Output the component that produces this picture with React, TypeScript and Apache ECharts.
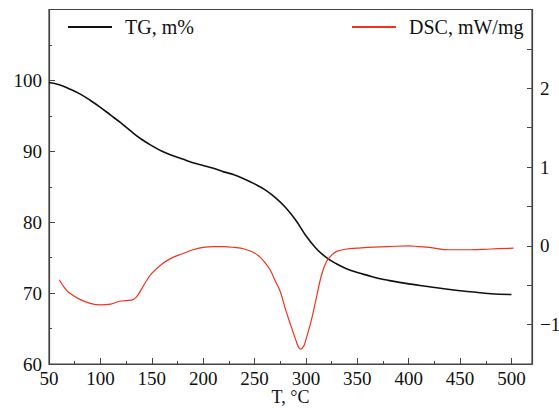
import React, { useEffect, useRef } from "react";
import * as echarts from "echarts";

const tgTemps = [50, 60, 70, 80, 90, 100, 110, 120, 130, 140, 150, 160, 170, 180, 190, 200, 210, 220, 230, 240, 250, 260, 270, 280, 290, 300, 310, 320, 330, 340, 350, 360, 370, 380, 400, 420, 440, 460, 480, 500];
const tgValues = [99.7, 99.4, 98.8, 98.1, 97.2, 96.2, 95.1, 94.0, 92.8, 91.7, 90.8, 90.0, 89.4, 88.9, 88.4, 88.0, 87.6, 87.1, 86.7, 86.1, 85.4, 84.6, 83.5, 82.1, 80.3, 78.1, 76.3, 75.0, 74.1, 73.4, 72.9, 72.5, 72.1, 71.8, 71.3, 70.9, 70.5, 70.2, 69.9, 69.8];

const dscTemps = [60, 65, 70, 80, 90, 100, 110, 120, 130, 135, 140, 145, 150, 160, 170, 180, 190, 200, 210, 220, 230, 240, 250, 255, 260, 265, 270, 275, 280, 285, 290, 293, 295, 298, 300, 305, 310, 315, 320, 325, 330, 340, 350, 360, 380, 400, 410, 420, 440, 460, 480, 502];
const dscValues = [-0.43, -0.53, -0.6, -0.68, -0.73, -0.75, -0.74, -0.7, -0.69, -0.65, -0.55, -0.44, -0.35, -0.23, -0.15, -0.1, -0.05, -0.02, -0.01, -0.01, -0.02, -0.04, -0.09, -0.14, -0.21, -0.3, -0.44, -0.58, -0.8, -1.0, -1.19, -1.29, -1.31, -1.27, -1.19, -0.96, -0.67, -0.38, -0.2, -0.12, -0.07, -0.04, -0.03, -0.02, -0.01, 0.0, -0.01, -0.02, -0.05, -0.05, -0.04, -0.03];

const xTickLabels = [50, 100, 150, 200, 250, 300, 350, 400, 450, 500];
const leftTickLabels = [60, 70, 80, 90, 100];
const rightTickLabels = [-1, 0, 1, 2];

const FONT = "Liberation Serif";
const AXIS = "#444";

export default function App() {
  const ref = useRef<HTMLDivElement>(null);
  useEffect(() => {
    if (!ref.current) return;
    const chart = echarts.init(ref.current, undefined, { renderer: "svg" });
    const tg = tgTemps.map((t, i) => [t, tgValues[i]]);
    const dsc = dscTemps.map((t, i) => [t, dscValues[i]]);
    const labelStyle = { fontFamily: FONT, fontSize: 19, color: "#111" };
    chart.setOption({
      animation: false,
      backgroundColor: "#fff",
      textStyle: { fontFamily: FONT },
      grid: {
        left: 49,
        right: 27,
        top: 9.5,
        bottom: 44,
        outerBoundsMode: "none",
        containLabel: false,
        show: true,
        borderColor: AXIS,
        borderWidth: 1.2,
        backgroundColor: "transparent",
      },
      legend: [
        {
          left: 68,
          top: 17,
          padding: 0,
          itemWidth: 44,
          itemHeight: 2,
          icon: "rect",
          textStyle: { ...labelStyle, fontSize: 20, padding: [0, 0, 0, 8] },
          data: ["TG, m%"],
        },
        {
          left: 352,
          top: 17,
          padding: 0,
          itemWidth: 44,
          itemHeight: 2,
          icon: "rect",
          textStyle: { ...labelStyle, fontSize: 20, padding: [0, 0, 0, 8] },
          data: ["DSC, mW/mg"],
        },
      ],
      xAxis: {
        type: "value",
        min: 50,
        max: 520,
        interval: 50,
        name: "T, °C",
        nameLocation: "middle",
        nameGap: 23,
        nameMoveOverlap: false,
        nameTextStyle: { ...labelStyle, fontSize: 18, lineHeight: 20 },
        axisLine: { show: true, onZero: false, lineStyle: { color: AXIS, width: 1.2 } },
        axisTick: { show: true, inside: true, length: 6, lineStyle: { color: AXIS } },
        minorTick: { show: true, splitNumber: 2, length: 3, lineStyle: { color: AXIS } },
        splitLine: { show: false },
        axisLabel: {
          ...labelStyle,
          margin: 5,
          formatter: (v: number) => (xTickLabels.includes(v) ? String(v) : ""),
        },
      },
      yAxis: [
        {
          type: "value",
          position: "left",
          min: 60,
          max: 110,
          interval: 10,
          axisLine: { show: true, onZero: false, lineStyle: { color: AXIS, width: 1.2 } },
          axisTick: { show: true, inside: true, length: 6, lineStyle: { color: AXIS } },
          minorTick: { show: true, splitNumber: 2, length: 3, lineStyle: { color: AXIS } },
          splitLine: { show: false },
          axisLabel: {
            ...labelStyle,
            margin: 7,
            formatter: (v: number) => (leftTickLabels.includes(v) ? String(v) : ""),
          },
        },
        {
          type: "value",
          position: "right",
          min: -1.5,
          max: 3,
          interval: 0.5,
          axisLine: { show: true, onZero: false, lineStyle: { color: AXIS, width: 1.2 } },
          axisTick: { show: true, inside: true, length: 5, lineStyle: { color: AXIS } },
          splitLine: { show: false },
          axisLabel: {
            ...labelStyle,
            margin: 8,
            formatter: (v: number) =>
              rightTickLabels.includes(v) ? (v < 0 ? "\u2212" + Math.abs(v) : String(v)) : "",
          },
        },
      ],
      series: [
        {
          name: "TG, m%",
          type: "line",
          yAxisIndex: 0,
          data: tg,
          smooth: 0.4,
          showSymbol: false,
          symbol: "none",
          color: "#111",
          lineStyle: { color: "#111", width: 1.6 },
        },
        {
          name: "DSC, mW/mg",
          type: "line",
          yAxisIndex: 1,
          data: dsc,
          smooth: 0.4,
          showSymbol: false,
          symbol: "none",
          color: "#f0321e",
          lineStyle: { color: "#f0321e", width: 1.2 },
        },
      ],
    });
    return () => chart.dispose();
  }, []);
  return (
    <div
      ref={ref}
      style={{ position: "absolute", left: 0, top: 0, width: 559, height: 408, background: "#fff" }}
    />
  );
}
